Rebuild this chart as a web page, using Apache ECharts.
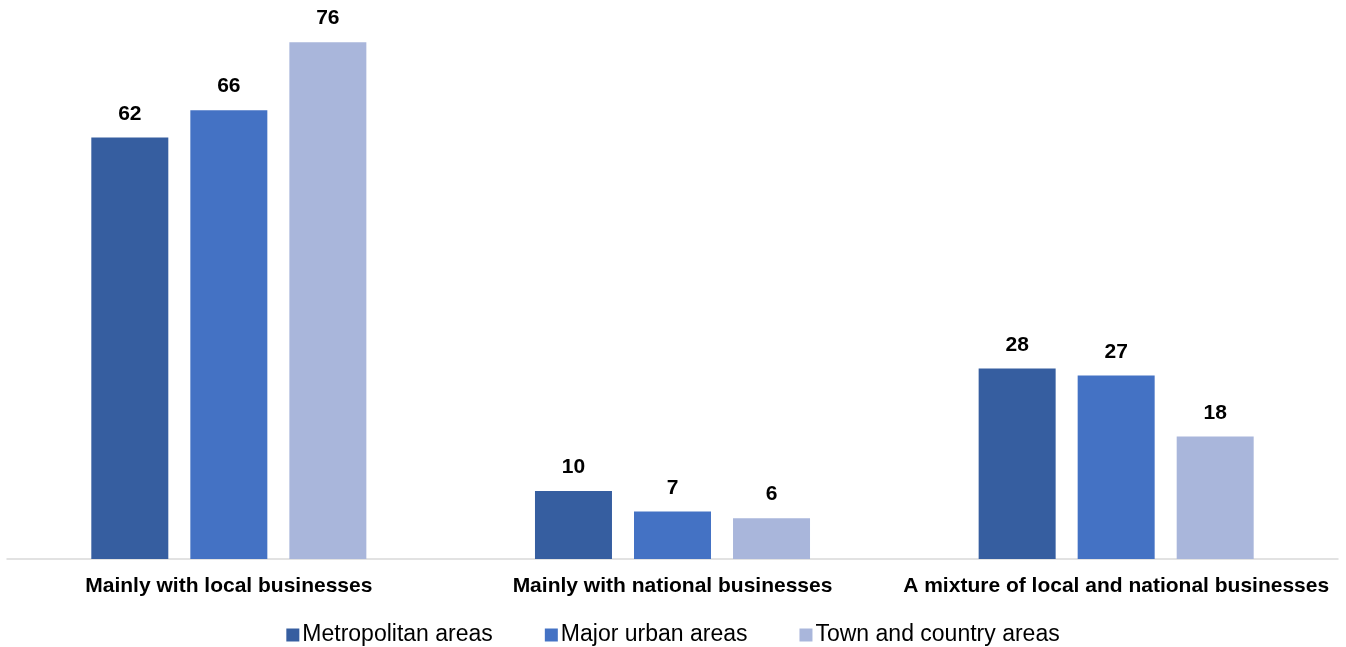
<!DOCTYPE html>
<html><head><meta charset="utf-8">
<script src="https://cdn.jsdelivr.net/npm/echarts@6/dist/echarts.min.js"></script>
<style>html,body{margin:0;padding:0;background:#fff}#c{width:1346px;height:647px}</style>
</head><body><div id="c"></div>
<script>
const categories = ['Mainly with local businesses', 'Mainly with national businesses', 'A mixture of local and national businesses'];
const seriesNames = ['Metropolitan areas', 'Major urban areas', 'Town and country areas'];
const metropolitan = [62, 10, 28];
const majorUrban = [66, 7, 27];
const townCountry = [76, 6, 18];
const colors = ['#365EA0', '#4472C4', '#A9B6DB'];
const values = [metropolitan, majorUrban, townCountry];

const chart = echarts.init(document.getElementById('c'), null, {renderer: 'canvas'});
chart.setOption({
  animation: false,
  textStyle: {fontFamily: 'Liberation Sans, Arial, sans-serif'},
  grid: {left: 7, right: 8, top: 15, bottom: 88},
  legend: {
    top: 622, left: 'center', itemWidth: 13, itemHeight: 13, itemGap: 52, padding: 0,
    icon: 'rect',
    textStyle: {fontSize: 23, lineHeight: 26, color: '#000', fontFamily: 'Liberation Sans, Arial, sans-serif', padding: [0, 0, 0, -2]},
    data: seriesNames
  },
  xAxis: {
    type: 'category', data: categories,
    axisLine: {lineStyle: {color: '#D9D9D9', width: 1.5}},
    axisTick: {show: false},
    axisLabel: {fontSize: 21, fontWeight: 'bold', color: '#000', margin: 17, interval: 0}
  },
  yAxis: {type: 'value', min: 0, max: 80, show: false, splitLine: {show: false}},
  series: values.map((v, i) => ({
    name: seriesNames[i], type: 'bar', data: v, barWidth: 77, barGap: '28.6%',
    itemStyle: {color: colors[i]},
    label: {show: true, position: 'top', distance: 13, fontSize: 21, fontWeight: 'bold', color: '#000'}
  }))
});
</script></body></html>
